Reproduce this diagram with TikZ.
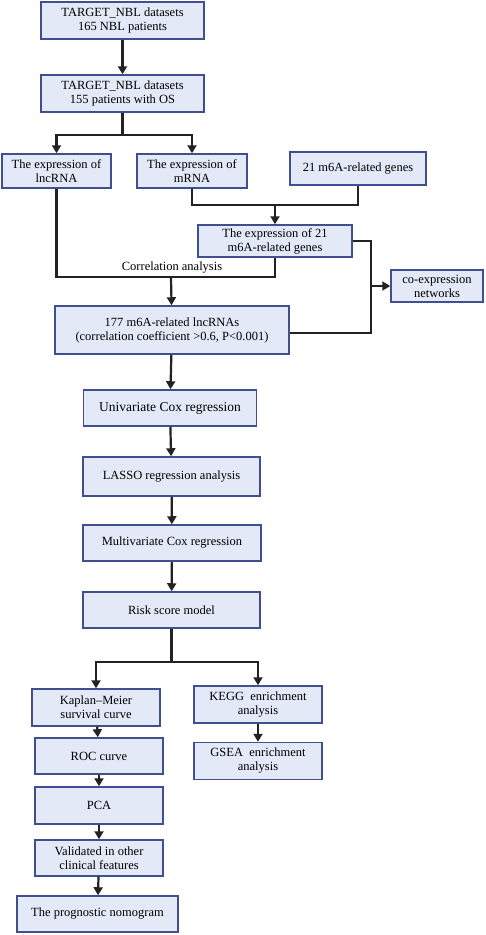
\documentclass[tikz,border=0pt]{standalone}
\usepackage{fontspec}
\setmainfont{Liberation Serif}
\usetikzlibrary{arrows.meta}
\definecolor{boxfill}{HTML}{E4E9F8}
\definecolor{boxline}{HTML}{3F4F8F}
\definecolor{flowline}{HTML}{222222}
\tikzset{ %inner sep = 0mm,
  {step box/.style} ={rectangle, draw=boxline, fill=boxfill,
                line width=1.5pt, inner sep=0, align=center,
                font=\fontsize{12.5}{14}\selectfont},
  {flow/.style} ={draw=flowline, line width=2.2pt},
  {flow arrow/.style} ={flow, -{Triangle[width=9pt,length=8pt]}},
}
\begin{document}
\begin{tikzpicture}[x=1pt,y=-1pt]
\useasboundingbox (0,0) rectangle (486,935);
% upper part
\node[step box, minimum width=163, minimum height=37] (d165) at (122.5,20.5) {TARGET\_NBL datasets\\165 NBL patients};
\node[step box, minimum width=163, minimum height=37] (d155) at (122.5,93.5) {TARGET\_NBL datasets\\155 patients with OS};
\node[step box, minimum width=109, minimum height=34] (lnc) at (56.5,171) {The expression of\\lncRNA};
\node[step box, minimum width=110, minimum height=34] (mrna) at (192,171) {The expression of\\mRNA};
\node[step box, minimum width=136, minimum height=33] (genes) at (358,168.5) {21 m6A-related genes};
\node[step box, minimum width=154, minimum height=32] (expr) at (275,241) {The expression of 21\\m6A-related genes};
\node[step box, minimum width=92, minimum height=32] (coexp) at (437,286) {co-expression\\networks};
\node[step box, minimum width=234, minimum height=48] (lnc177) at (172,330) {177 m6A-related lncRNAs\\(correlation coefficient >0.6, P<0.001)};
% model building
\node[step box, minimum width=173, minimum height=36, font=\fontsize{13.5}{15}\selectfont] (univ) at (170,408) {Univariate Cox regression};
\node[step box, minimum width=177, minimum height=39] (lasso) at (171.5,476.5) {LASSO regression analysis};
\node[step box, minimum width=178, minimum height=36] (multi) at (172,543) {Multivariate Cox regression};
\node[step box, minimum width=177, minimum height=36] (risk) at (171.5,610) {Risk score model};
% validation
\node[step box, minimum width=128, minimum height=37] (km) at (96,707.5) {Kaplan--Meier\\survival curve};
\node[step box, minimum width=128, minimum height=36] (roc) at (99,756) {ROC curve};
\node[step box, minimum width=128, minimum height=37] (pca) at (99,805.5) {PCA};
\node[step box, minimum width=128, minimum height=36] (valid) at (99,858) {Validated in other\\clinical features};
\node[step box, minimum width=161, minimum height=36] (nomo) at (97.5,914) {The prognostic nomogram};
\node[step box, minimum width=128, minimum height=37] (kegg) at (258,704.5) {KEGG~~enrichment\\analysis};
\node[step box, minimum width=128, minimum height=37] (gsea) at (258,761) {GSEA~~enrichment\\analysis};
% junctions
\coordinate (split1) at (122.5,135);
\coordinate (merge1) at (275,205);
\coordinate (corr) at (171,277);
\coordinate (side) at (371,286);
\coordinate (split2) at (171.5,662);
\path[every edge/.style={flow arrow}] (d165) edge (d155)
        (merge1) edge (expr)
        (corr) edge (lnc177)
        (side) edge (coexp)
        (lnc177) edge (univ)
        (univ) edge (lasso)
        (lasso) edge (multi)
        (multi) edge (risk)
        (km) edge (roc)
        (roc) edge (pca)
        (pca) edge (valid)
        (valid) edge (nomo)
        (kegg) edge (gsea)
        ;
\draw[flow] (d155) -- (split1);
\draw[flow arrow] (split1) -| (lnc);
\draw[flow arrow] (split1) -| (mrna);
\draw[flow] (mrna) |- (merge1) -| (genes);
\draw[flow] (lnc) |- (corr) -| (expr);
\node[font=\fontsize{12.5}{14}\selectfont, above] at (172,277) {Correlation analysis};
\draw[flow] (expr.east) -| (side) |- ([yshift=-3]lnc177.east);
\draw[flow] (risk) -- (split2);
\draw[flow arrow] (split2) -| (km);
\draw[flow arrow] (split2) -| (kegg);
\end{tikzpicture}
\end{document}
